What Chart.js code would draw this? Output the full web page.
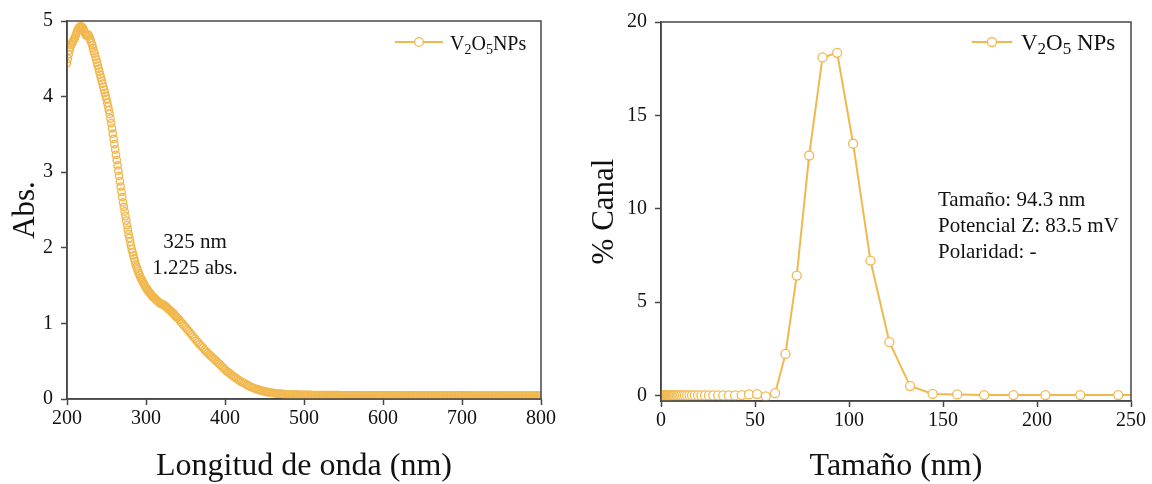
<!DOCTYPE html>
<html>
<head>
<meta charset="utf-8">
<script src="https://cdn.jsdelivr.net/npm/chart.js@4.4.1/dist/chart.umd.min.js"></script>
<style>
  body { margin: 0; background: #fff; }
  #wrap { position: relative; width: 1152px; height: 484px; }
  canvas { position: absolute; top: 0; }
  #uv { left: 0; }
  #dls { left: 576px; }
</style>
</head>
<body>
<div id="wrap">
  <canvas id="uv" width="576" height="484"></canvas>
  <canvas id="dls" width="576" height="484"></canvas>
</div>
<script>
// --- DATA: UV-Vis spectrum ---
const wavelengthNm = [
  200,201,202,203,204,205,206,207,208,209,210,211,212,213,214,215,216,217,218,219,
  220,221,222,223,224,225,226,227,228,229,230,231,232,233,234,235,236,237,238,239,
  240,241,242,243,244,245,246,247,248,249,250,251,252,253,254,255,256,257,258,259,
  260,261,262,263,264,265,266,267,268,269,270,271,272,273,274,275,276,277,278,279,
  280,281,282,283,284,285,286,287,288,289,290,291,292,293,294,295,296,297,298,299,
  300,301,302,303,304,305,306,307,308,309,310,311,312,313,314,315,316,317,318,319,
  320,321,322,323,324,325,326,327,328,329,330,331,332,333,334,335,336,337,338,339,340,
  342,344,346,348,350,352,354,356,358,360,362,364,366,368,370,372,374,376,378,380,
  382,384,386,388,390,392,394,396,398,400,402,404,406,408,410,412,414,416,418,420,
  422,424,426,428,430,432,434,436,438,440,442,444,446,448,450,452,454,456,458,460,
  462,464,466,468,470,472,474,476,478,480,482,484,486,488,490,492,494,496,498,500,
  502,504,506,508,510,512,514,516,518,520,522,524,526,528,530,532,534,536,538,540,
  542,544,546,548,550,552,554,556,558,560,562,564,566,568,570,572,574,576,578,580,
  582,584,586,588,590,592,594,596,598,600,602,604,606,608,610,612,614,616,618,620,
  622,624,626,628,630,632,634,636,638,640,642,644,646,648,650,652,654,656,658,660,
  662,664,666,668,670,672,674,676,678,680,682,684,686,688,690,692,694,696,698,700,
  702,704,706,708,710,712,714,716,718,720,722,724,726,728,730,732,734,736,738,740,
  742,744,746,748,750,752,754,756,758,760,762,764,766,768,770,772,774,776,778,780,
  782,784,786,788,790,792,794,796,798,800
];
const absorbance = [
  4.44,4.50,4.56,4.61,4.65,4.68,4.70,4.72,4.74,4.76,
  4.78,4.81,4.84,4.87,4.89,4.91,4.92,4.93,4.93,4.92,
  4.91,4.89,4.86,4.83,4.81,4.81,4.82,4.82,4.80,4.77,
  4.74,4.71,4.68,4.64,4.60,4.57,4.53,4.49,4.45,4.41,
  4.37,4.33,4.29,4.25,4.21,4.17,4.13,4.09,4.05,4.01,
  3.97,3.92,3.87,3.82,3.77,3.71,3.65,3.58,3.51,3.44,
  3.37,3.30,3.23,3.16,3.09,3.02,2.95,2.88,2.81,2.74,
  2.67,2.60,2.54,2.48,2.42,2.36,2.30,2.24,2.18,2.13,
  2.08,2.03,1.98,1.94,1.90,1.86,1.82,1.78,1.75,1.72,
  1.69,1.66,1.64,1.61,1.59,1.57,1.55,1.53,1.51,1.49,
  1.47,1.46,1.44,1.43,1.41,1.40,1.39,1.37,1.36,1.35,
  1.34,1.33,1.32,1.31,1.30,1.29,1.28,1.27,1.265,1.26,
  1.255,1.25,1.245,1.24,1.23,1.225,1.215,1.205,1.195,1.185,
  1.175,1.165,1.155,1.145,1.135,1.125,1.115,1.10,1.09,1.08,1.07,
  1.05,1.02,1.00,0.97,0.95,0.92,0.90,0.87,0.85,0.82,
  0.80,0.77,0.75,0.72,0.70,0.68,0.65,0.63,0.61,0.59,
  0.57,0.55,0.53,0.51,0.49,0.47,0.45,0.43,0.41,0.39,
  0.37,0.355,0.34,0.32,0.305,0.29,0.275,0.26,0.245,0.23,
  0.22,0.21,0.20,0.185,0.175,0.165,0.155,0.146,0.138,0.13,
  0.123,0.117,0.111,0.106,0.10,0.096,0.092,0.088,0.084,0.08,
  0.077,0.075,0.072,0.07,0.068,0.066,0.064,0.062,0.061,0.06,
  0.059,0.058,0.058,0.057,0.056,0.056,0.055,0.055,0.054,0.054,
  0.054,0.053,0.053,0.053,0.052,0.052,0.052,0.052,0.051,0.051,
  0.051,0.051,0.051,0.050,0.050,0.050,0.050,0.050,0.050,0.050,
  0.050,0.050,0.049,0.049,0.049,0.049,0.049,0.049,0.049,0.049,
  0.049,0.049,0.048,0.048,0.048,0.048,0.048,0.048,0.048,0.048,
  0.048,0.048,0.048,0.048,0.048,0.048,0.048,0.048,0.048,0.048,
  0.048,0.048,0.047,0.047,0.047,0.047,0.047,0.047,0.047,0.047,
  0.047,0.047,0.047,0.047,0.047,0.047,0.047,0.047,0.047,0.047,
  0.047,0.047,0.047,0.047,0.046,0.046,0.046,0.046,0.046,0.046,
  0.046,0.046,0.046,0.046,0.046,0.046,0.046,0.046,0.046,0.046,
  0.046,0.046,0.046,0.046,0.046,0.046,0.046,0.046,0.046,0.046,
  0.046,0.046,0.046,0.046,0.046,0.045,0.045,0.045,0.045,0.045,
  0.045,0.045,0.045,0.045,0.045,0.045,0.045,0.045,0.045,0.045,
  0.045,0.045,0.045,0.045,0.045,0.045,0.045,0.045,0.045,0.045,
  0.045,0.045,0.045,0.045,0.045,0.045,0.045,0.045,0.045,0.045,
  0.045,0.045,0.045,0.045,0.045,0.045,0.045,0.045,0.045,0.045
];

// --- DATA: size distribution ---
const sizeNm = [
  0.40,0.43,0.47,0.52,0.56,0.61,0.67,0.73,0.79,0.87,
  0.95,1.03,1.12,1.23,1.34,1.46,1.59,1.74,1.89,2.06,
  2.25,2.45,2.68,2.92,3.18,3.47,3.79,4.13,4.50,4.91,
  5.36,5.84,6.37,6.95,7.58,8.26,9.01,9.83,10.7,11.7,
  12.7,13.9,15.2,16.5,18.0,19.7,21.5,23.4,25.5,27.8,
  30.4,33.1,36.1,39.4,42.9,46.8,51.1,55.7,60.7,66.2,
  72.2,78.8,85.9,93.7,102.2,111.4,121.5,132.5,144.5,157.6,
  171.9,187.5,204.5,223.0,243.2,265.3
];
const channelPct = [
  0,0,0,0,0,0,0,0,0,0,
  0,0,0,0,0,0,0,0,0,0,
  0,0,0,0,0,0,0,0,0,0,
  0,0,0,0,0,0,0,0,0,0,
  0,0,0,0,0,0,0,0,0,0,
  0,0,0,0,0.02,0.05,0.07,-0.05,0.12,2.22,
  6.42,12.85,18.1,18.35,13.48,7.22,2.85,0.5,0.08,0.05,
  0.02,0.02,0.02,0.02,0.02,0.02
];

// --- AXES / LABELS ---
const uvXTicks = [200, 300, 400, 500, 600, 700, 800];
const uvYTicks = [0, 1, 2, 3, 4, 5];
const dlsXTicks = [0, 50, 100, 150, 200, 250];
const dlsYTicks = [0, 5, 10, 15, 20];
const uvNotes = ['325 nm', '1.225 abs.'];
const dlsNotes = ['Tamaño: 94.3 nm', 'Potencial Z: 83.5 mV', 'Polaridad: -'];

// --- STYLE ---
const ORANGE = '#F1B84F';
const AXIS = '#474747';
const SERIF = '"Liberation Serif", "Times New Roman", serif';

// text with subscripts: parts = [[text, isSub], ...]
function drawRich(ctx, parts, x, y, size, subSize, subDrop) {
  ctx.textAlign = 'left';
  ctx.textBaseline = 'alphabetic';
  parts.forEach(([txt, sub]) => {
    ctx.font = `${sub ? subSize : size}px ${SERIF}`;
    ctx.fillText(txt, x, y + (sub ? subDrop : 0));
    x += ctx.measureText(txt).width;
  });
}

// frame, legend and notes drawn over the plot
function decorPlugin(cfg) {
  return {
    id: 'decor',
    afterDraw(chart) {
      const ctx = chart.ctx;
      const a = chart.chartArea;
      ctx.save();
      ctx.strokeStyle = AXIS;
      ctx.lineWidth = 1.5;
      ctx.strokeRect(a.left, a.top, a.right - a.left, a.bottom - a.top);

      // legend
      const lg = cfg.legend;
      ctx.strokeStyle = ORANGE;
      ctx.lineWidth = 2;
      ctx.beginPath();
      ctx.moveTo(lg.x0, lg.y);
      ctx.lineTo(lg.x1, lg.y);
      ctx.stroke();
      ctx.beginPath();
      ctx.arc((lg.x0 + lg.x1) / 2, lg.y, lg.r, 0, Math.PI * 2);
      ctx.fillStyle = '#fff';
      ctx.fill();
      ctx.lineWidth = 1.3;
      ctx.stroke();
      ctx.fillStyle = '#111';
      drawRich(ctx, lg.parts, lg.tx, lg.ty, lg.size, lg.subSize, lg.subDrop);

      // notes
      ctx.font = `21px ${SERIF}`;
      ctx.textAlign = cfg.notes.align;
      ctx.textBaseline = 'middle';
      cfg.notes.lines.forEach((t, i) => {
        ctx.fillText(t, cfg.notes.x, cfg.notes.y + i * cfg.notes.gap);
      });
      ctx.restore();
    }
  };
}

function axisTicks(values) {
  return scale => { scale.ticks = values.map(v => ({ value: v })); };
}

function makeScales(o) {
  const tickFont = { family: SERIF, size: 20 };
  return {
    x: {
      type: 'linear', min: o.xMin, max: o.xMax,
      afterBuildTicks: axisTicks(o.xTicks),
      afterFit: s => { s.height = o.xHeight; },
      grid: { drawOnChartArea: false, drawTicks: true, tickLength: 6, tickColor: AXIS, tickWidth: 1.5 },
      border: { display: true, color: AXIS, width: 1.5 },
      ticks: { color: '#111', font: tickFont, padding: 2, maxRotation: 0 },
      title: { display: true, text: o.xTitle, color: '#111', font: { family: SERIF, size: 32, lineHeight: 1.1 }, padding: { top: 0, bottom: 0 } }
    },
    y: {
      type: 'linear', min: o.yMin, max: o.yMax,
      afterBuildTicks: axisTicks(o.yTicks),
      afterFit: s => { s.width = o.yWidth; },
      grid: { drawOnChartArea: false, drawTicks: true, tickLength: 6, tickColor: AXIS, tickWidth: 1.5 },
      border: { display: true, color: AXIS, width: 1.5 },
      ticks: { color: '#111', font: tickFont, padding: 8 },
      title: { display: true, text: o.yTitle, color: '#111', font: { family: SERIF, size: 31 }, padding: { top: o.yTitlePad, bottom: 0 } }
    }
  };
}

const baseOptions = {
  responsive: false,
  animation: false,
  devicePixelRatio: 1,
  plugins: { legend: { display: false }, tooltip: { enabled: false } }
};

// --- UV-Vis chart: hollow, unfilled rings so dense points merge into a band ---
new Chart(document.getElementById('uv'), {
  type: 'scatter',
  data: {
    datasets: [{
      data: wavelengthNm.map((w, i) => ({ x: w, y: absorbance[i] })),
      showLine: false,
      pointRadius: 3.7,
      pointBorderWidth: 1.4,
      pointBorderColor: ORANGE,
      pointBackgroundColor: 'rgba(255,255,255,0)'
    }]
  },
  options: {
    ...baseOptions,
    layout: { padding: { left: 0, top: 21, right: 35, bottom: 0 } },
    scales: makeScales({
      xMin: 200, xMax: 800, xTicks: uvXTicks, xHeight: 85, xTitle: 'Longitud de onda (nm)',
      yMin: 0, yMax: 5, yTicks: uvYTicks, yWidth: 67, yTitle: 'Abs.', yTitlePad: 7
    })
  },
  plugins: [decorPlugin({
    legend: { x0: 395, x1: 443, y: 42, r: 4.3, tx: 450, ty: 50,
      parts: [['V', 0], ['2', 1], ['O', 0], ['5', 1], ['NPs', 0]], size: 20, subSize: 14, subDrop: 4 },
    notes: { lines: uvNotes, x: 195, y: 242, gap: 26, align: 'center' }
  })]
});

// --- size distribution chart ---
new Chart(document.getElementById('dls'), {
  type: 'scatter',
  data: {
    datasets: [{
      data: sizeNm.map((s, i) => ({ x: s, y: channelPct[i] })),
      showLine: true,
      borderColor: ORANGE,
      borderWidth: 2,
      pointRadius: 4.5,
      pointBorderWidth: 1.3,
      pointBorderColor: ORANGE,
      pointBackgroundColor: '#fff'
    }]
  },
  options: {
    ...baseOptions,
    layout: { padding: { left: 0, top: 22, right: 21, bottom: 0 } },
    scales: makeScales({
      xMin: 0, xMax: 250, xTicks: dlsXTicks, xHeight: 83, xTitle: 'Tamaño (nm)',
      yMin: -0.3, yMax: 20, yTicks: dlsYTicks, yWidth: 85, yTitle: '% Canal', yTitlePad: 10
    })
  },
  plugins: [decorPlugin({
    legend: { x0: 396, x1: 436, y: 42, r: 4.5, tx: 445, ty: 50,
      parts: [['V', 0], ['2', 1], ['O', 0], ['5', 1], [' NPs', 0]], size: 23, subSize: 17, subDrop: 4 },
    notes: { lines: dlsNotes, x: 362, y: 200, gap: 26, align: 'left' }
  })]
});
</script>
</body>
</html>
